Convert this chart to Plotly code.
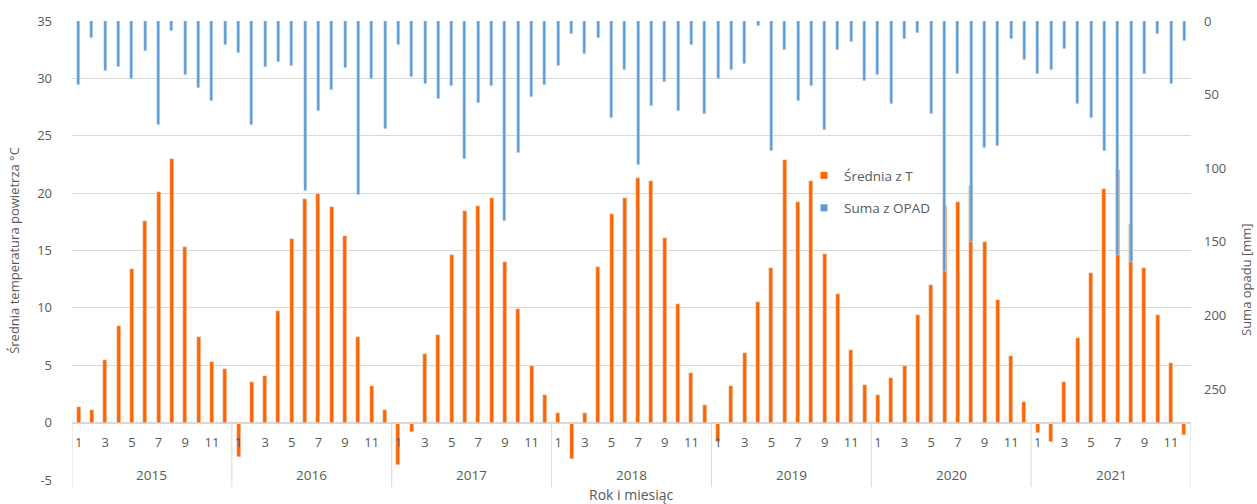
import plotly.graph_objects as go

years = [2015, 2016, 2017, 2018, 2019, 2020, 2021]
months = list(range(1, 13))

# monthly mean air temperature [°C]
temperature = [
    1.4, 1.1, 5.5, 8.4, 13.4, 17.6, 20.1, 23.0, 15.3, 7.5, 5.3, 4.7,
    -3.0, 3.5, 4.1, 9.7, 16.0, 19.5, 19.9, 18.8, 16.3, 7.5, 3.2, 1.1,
    -3.7, -0.8, 6.0, 7.6, 14.6, 18.4, 18.9, 19.6, 14.0, 9.9, 4.9, 2.4,
    0.8, -3.2, 0.8, 13.6, 18.2, 19.6, 21.3, 21.1, 16.1, 10.3, 4.3, 1.5,
    -1.7, 3.2, 6.1, 10.5, 13.5, 22.9, 19.2, 21.1, 14.7, 11.2, 6.3, 3.3,
    2.4, 3.9, 4.9, 9.4, 12.0, 18.9, 19.2, 20.6, 15.7, 10.7, 5.8, 1.8,
    -0.9, -1.7, 3.5, 7.4, 13.0, 20.4, 22.0, 17.3, 13.5, 9.4, 5.2, -1.1,
]

# monthly precipitation sum [mm]
precipitation = [
    43.5, 11.8, 34.0, 31.3, 39.6, 20.2, 70.7, 7.0, 36.9, 45.3, 54.6, 16.3,
    22.0, 70.7, 31.5, 27.6, 30.3, 115.5, 61.4, 47.1, 32.2, 118.4, 39.6, 73.4,
    16.3, 37.8, 42.6, 53.0, 44.4, 94.0, 55.7, 44.4, 136.0, 89.4, 51.9, 43.5,
    30.3, 8.8, 22.7, 11.8, 65.9, 33.3, 97.8, 57.5, 41.4, 61.1, 16.3, 63.2,
    39.6, 33.3, 29.4, 3.2, 88.3, 19.9, 54.6, 44.4, 74.0, 19.9, 14.5, 40.5,
    36.9, 56.6, 12.5, 7.9, 63.2, 170.3, 36.0, 150.0, 86.5, 84.7, 12.5, 26.5,
    36.0, 33.3, 19.0, 56.6, 65.9, 88.5, 159.0, 163.5, 36.0, 8.8, 42.6, 13.6,
]

temp_ticks = [-5, 0, 5, 10, 15, 20, 25, 30, 35]
precip_ticks = [0, 50, 100, 150, 200, 250]

month_labels = [str(m) for y in years for m in months]
idx = list(range(len(month_labels)))

ORANGE = "#FF6600"
BLUE = "#5B9BD5"
GRID = "#D9D9D9"
TXT = "#595959"
FONT = "Open Sans"

n = len(idx)
px_per_unit = 1119 / n

fig = go.Figure()
fig.add_trace(go.Bar(x=idx, y=temperature, name="Średnia z T", marker_color=ORANGE,
                     width=4 / px_per_unit, yaxis="y", showlegend=False))
fig.add_trace(go.Bar(x=idx, y=precipitation, name="Suma z OPAD", marker_color=BLUE,
                     width=3 / px_per_unit, yaxis="y2", showlegend=False))
# legend entries (small square keys)
fig.add_trace(go.Scatter(x=[None], y=[None], mode="markers", name="Średnia z T",
                         marker=dict(symbol="square", size=7, color=ORANGE), legendgroup="a"))
fig.add_trace(go.Scatter(x=[None], y=[None], mode="markers", name="Suma z OPAD",
                         marker=dict(symbol="square", size=7, color=BLUE), legendgroup="b"))

tickvals = [i for i in idx if int(month_labels[i]) % 2 == 1]
ticktext = [month_labels[i] for i in tickvals]

shapes = []
for k in range(len(years) + 1):
    shapes.append(dict(type="line", xref="x", yref="paper", x0=k * 12 - 0.5, x1=k * 12 - 0.5,
                       y0=0.125, y1=-0.0155, line=dict(color=GRID, width=1)))
# white patch behind legend hiding gridline
shapes.append(dict(type="rect", xref="paper", yref="y", x0=(818 - 72) / 1119, x1=(937 - 72) / 1119,
                   y0=19.6, y1=20.4, fillcolor="white", line=dict(width=0), layer="between"))

annotations = []
for k, yr in enumerate(years):
    annotations.append(dict(x=k * 12 + 5.5, y=(480 - 475) / 459, xref="x", yref="paper",
                            text=str(yr), showarrow=False, font=dict(size=13.5, color=TXT, family=FONT),
                            yanchor="middle", xanchor="center"))
annotations.append(dict(x=0.5, y=(480 - 494) / 459, xref="paper", yref="paper", text="Rok i miesiąc",
                        showarrow=False, font=dict(size=14, color=TXT, family=FONT),
                        yanchor="middle", xanchor="center"))
annotations.append(dict(x=(1246 - 72) / 1119, y=(480 - 280) / 459, xref="paper", yref="paper",
                        text="Suma opadu [mm]", textangle=-90, showarrow=False,
                        font=dict(size=13, color=TXT, family=FONT), yanchor="middle", xanchor="center"))

fig.update_layout(
    width=1257, height=504,
    margin=dict(l=72, r=66, t=21, b=24),
    plot_bgcolor="white", paper_bgcolor="white",
    font=dict(family=FONT, color=TXT, size=13),
    barmode="overlay",
    bargap=0,
    xaxis=dict(range=[-0.5, n - 0.5], anchor="free", position=0.125, showgrid=False,
               showline=True, linecolor=GRID, linewidth=1, zeroline=False,
               tickmode="array", tickvals=tickvals, ticktext=ticktext,
               ticks="outside", ticklen=0, ticklabelstandoff=8,
               tickfont=dict(size=13, color=TXT, family=FONT)),
    yaxis=dict(range=[-5, 35], tickmode="array", tickvals=temp_ticks,
               ticktext=[str(t) for t in temp_ticks],
               showgrid=True, gridcolor=GRID, gridwidth=1,
               zeroline=False, showline=False, ticks="", ticklabelstandoff=19,
               tickfont=dict(size=13, color=TXT, family=FONT),
               title=dict(text="Średnia temperatura powietrza °C", standoff=14,
                          font=dict(size=13, color=TXT, family=FONT))),
    yaxis2=dict(range=[311.8, 0], overlaying="y", side="right", anchor="x",
                tickmode="array", tickvals=precip_ticks,
                showgrid=False, zeroline=False, showline=False, ticks="", ticklabelstandoff=12,
                tickfont=dict(size=13, color=TXT, family=FONT)),
    legend=dict(x=(804 - 72) / 1119, y=(480 - 160) / 459, xanchor="left", yanchor="top",
                bgcolor="rgba(0,0,0,0)", borderwidth=0, tracegroupgap=12,
                font=dict(size=13.5, color=TXT, family=FONT), itemwidth=30),
    shapes=shapes,
    annotations=annotations,
)

fig.write_html("out.html", config={"displayModeBar": False},
               post_script="document.body.style.margin='0';")
